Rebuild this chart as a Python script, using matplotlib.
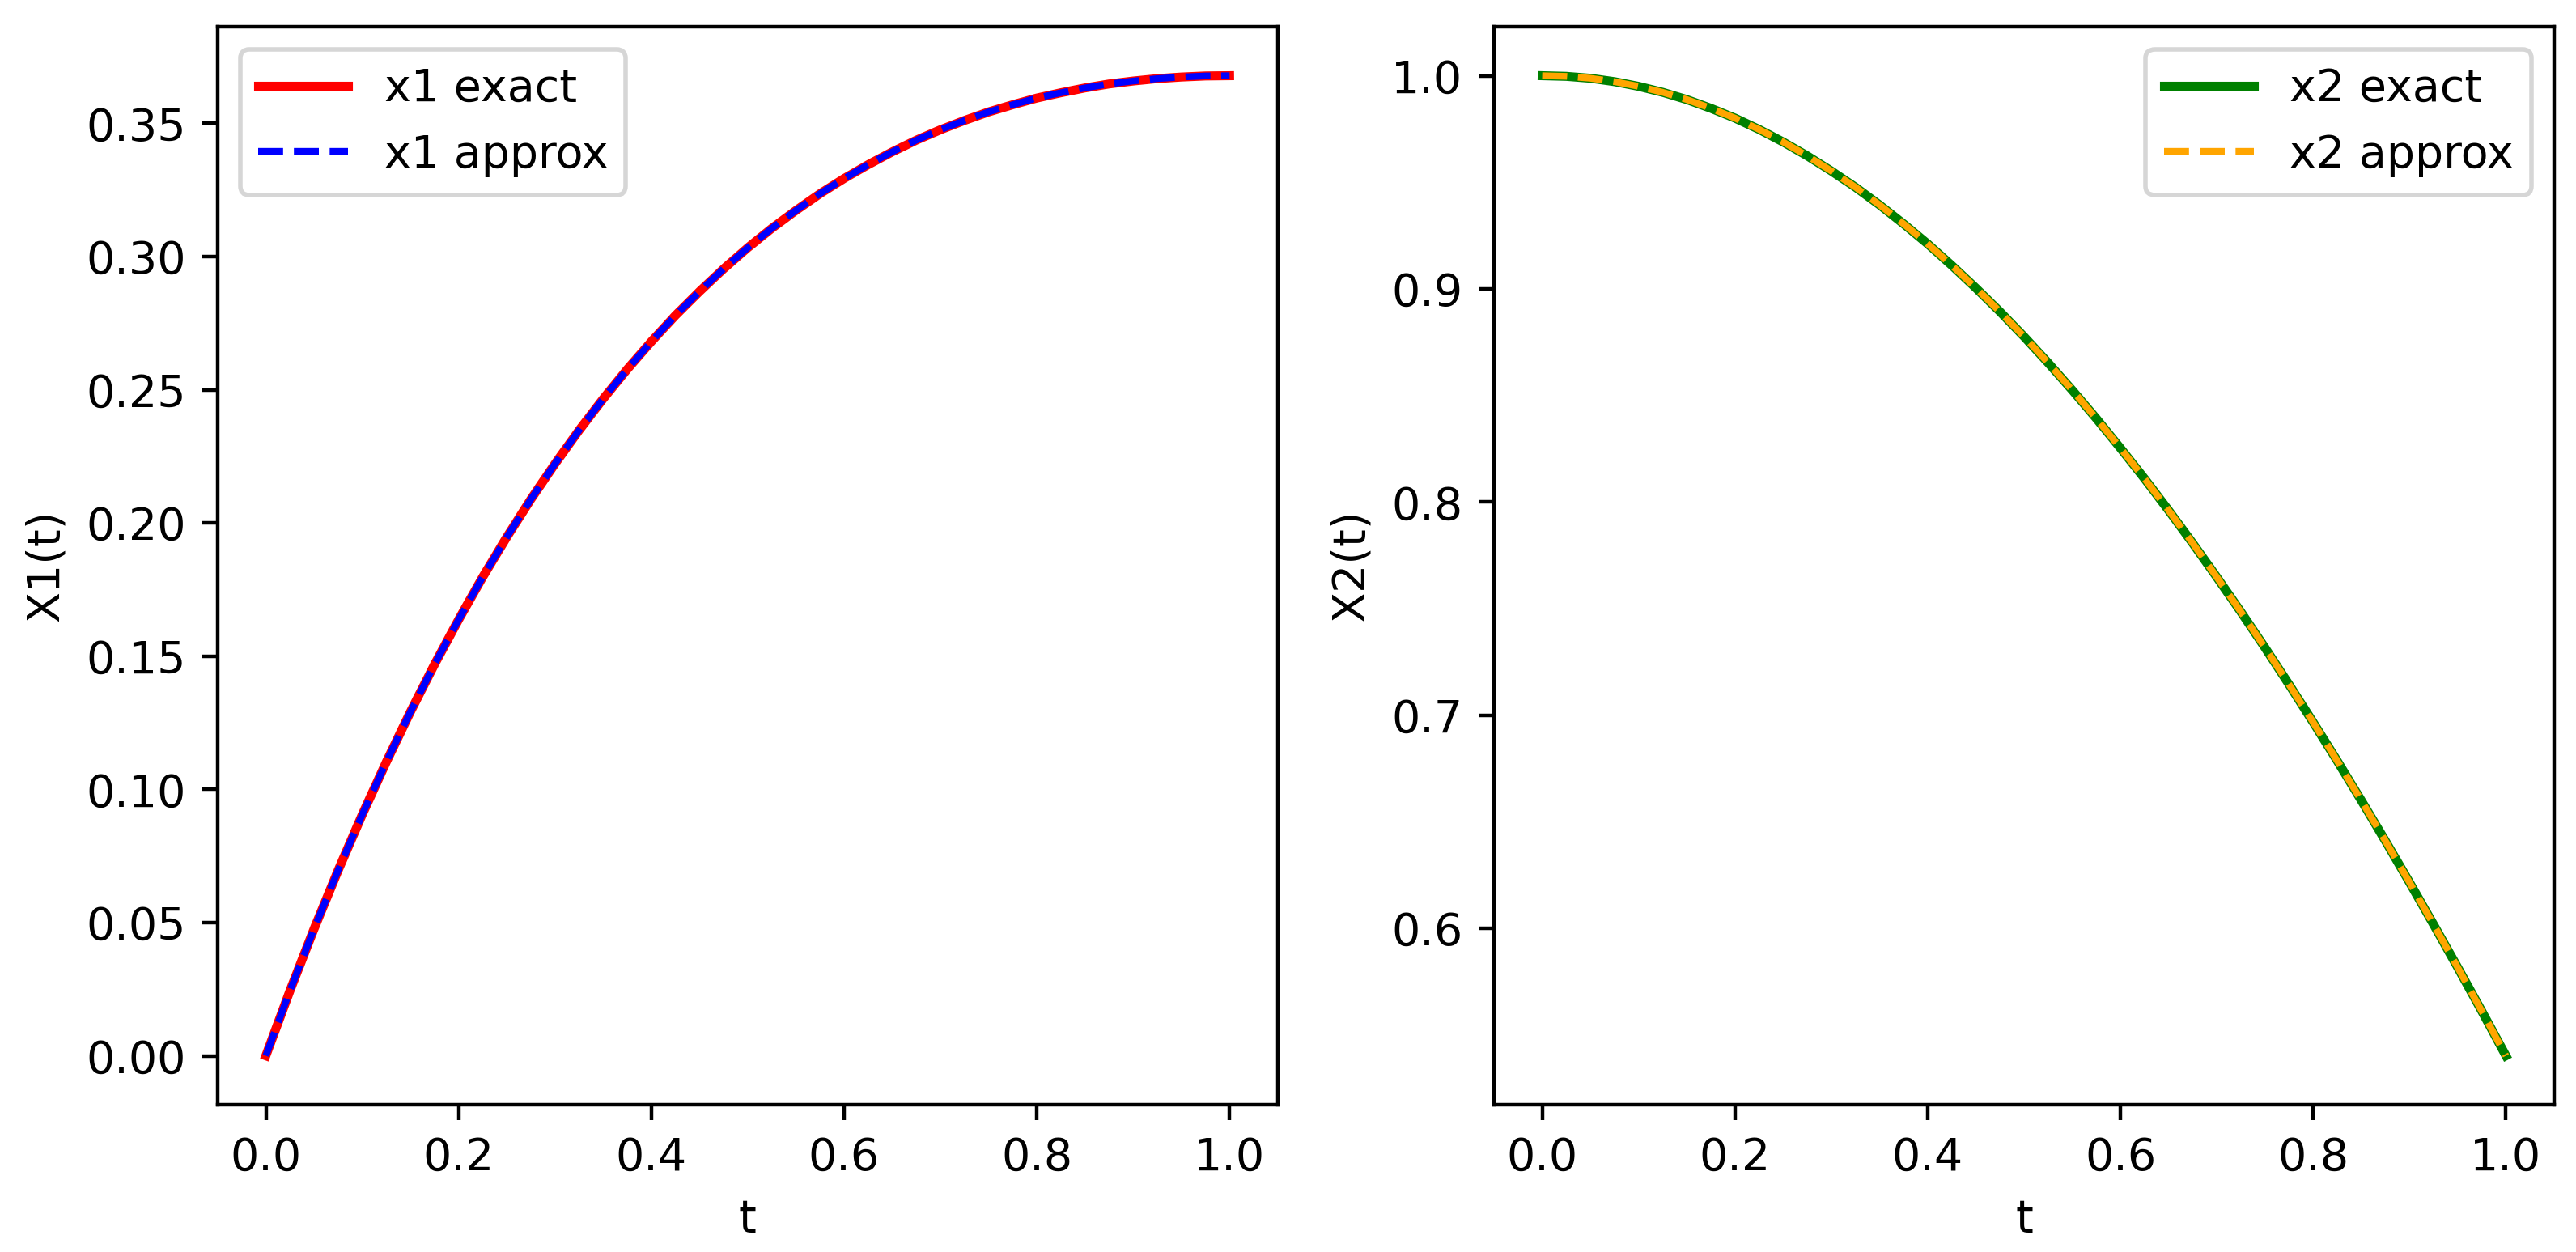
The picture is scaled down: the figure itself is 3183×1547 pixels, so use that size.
import numpy as np
import matplotlib.pyplot as plt

# values
t = [0.0, 0.025, 0.05, 0.075, 0.1, 0.125, 0.15, 0.175, 0.2, 0.225, 0.25,
     0.275, 0.3, 0.325, 0.35, 0.375, 0.4, 0.425, 0.45, 0.475, 0.5,
     0.525, 0.55, 0.575, 0.6, 0.625, 0.65, 0.675, 0.7, 0.725, 0.75,
     0.775, 0.8, 0.825, 0.85, 0.875, 0.9, 0.925, 0.95, 0.975, 1.0]
x1_exact = [0.0, 0.0244, 0.0476, 0.0696, 0.0905, 0.1103, 0.1291, 0.1469, 0.1637, 0.1797, 0.1947,
            0.2089, 0.2222, 0.2348, 0.2466, 0.2577, 0.2681, 0.2779, 0.2869, 0.2954, 0.3033,
            0.3106, 0.3173, 0.3236, 0.3293, 0.3345, 0.3393, 0.3437, 0.3476, 0.3511, 0.3543,
            0.3570, 0.3595, 0.3615, 0.3633, 0.3648, 0.3659, 0.3668, 0.3674, 0.3678, 0.3679]
x1_approx = [0.0, 0.0244, 0.0476, 0.0696, 0.0905, 0.1103, 0.1291, 0.1469, 0.1637, 0.1797, 0.1947,
             0.2089, 0.2222, 0.2348, 0.2466, 0.2577, 0.2681, 0.2779, 0.2869, 0.2954, 0.3033,
             0.3106, 0.3173, 0.3236, 0.3293, 0.3345, 0.3393, 0.3437, 0.3476, 0.3511, 0.3543,
             0.3570, 0.3595, 0.3615, 0.3633, 0.3648, 0.3659, 0.3668, 0.3674, 0.3678, 0.3679]
x2_exact = [1.0, 0.9997, 0.9988, 0.9972, 0.9950, 0.9922, 0.9888, 0.9847, 0.9801, 0.9748, 0.9689,
            0.9624, 0.9553, 0.9477, 0.9394, 0.9305, 0.9211, 0.9110, 0.9004, 0.8893, 0.8776,
            0.8653, 0.8525, 0.8392, 0.8253, 0.8110, 0.7961, 0.7807, 0.7648, 0.7485, 0.7317,
            0.7144, 0.6967, 0.6786, 0.6600, 0.6410, 0.6216, 0.6018, 0.5817, 0.5612, 0.5403]
x2_approx = [1.0, 0.9997, 0.9988, 0.9972, 0.9950, 0.9922, 0.9888, 0.9847, 0.9801, 0.9748, 0.9689,
             0.9624, 0.9553, 0.9477, 0.9394, 0.9305, 0.9211, 0.9110, 0.9004, 0.8893, 0.8776,
             0.8653, 0.8525, 0.8392, 0.8253, 0.8110, 0.7961, 0.7807, 0.7648, 0.7485, 0.7317,
             0.7144, 0.6967, 0.6786, 0.6600, 0.6410, 0.6216, 0.6018, 0.5817, 0.5612, 0.5403]

fig, (ax1, ax2) = plt.subplots(1, 2, figsize=(7.9575, 3.8675), dpi=400)
fig.subplots_adjust(left=0.0845, right=0.9915, bottom=0.1176, top=0.9787, wspace=0.204)

ax1.plot(t, x1_exact, color="red", linewidth=2, label="x1 exact")
ax1.plot(t, x1_approx, color="blue", linestyle="--", linewidth=1.5, label="x1 approx")
ax1.set_xlabel("t")
ax1.set_ylabel("X1(t)")
ax1.legend(loc="upper left")

ax2.plot(t, x2_exact, color="green", linewidth=2, label="x2 exact")
ax2.plot(t, x2_approx, color="orange", linestyle="--", linewidth=1.5, label="x2 approx")
ax2.set_xlabel("t")
ax2.set_ylabel("X2(t)")
ax2.legend(loc="upper right")

fig.savefig("out.png")
